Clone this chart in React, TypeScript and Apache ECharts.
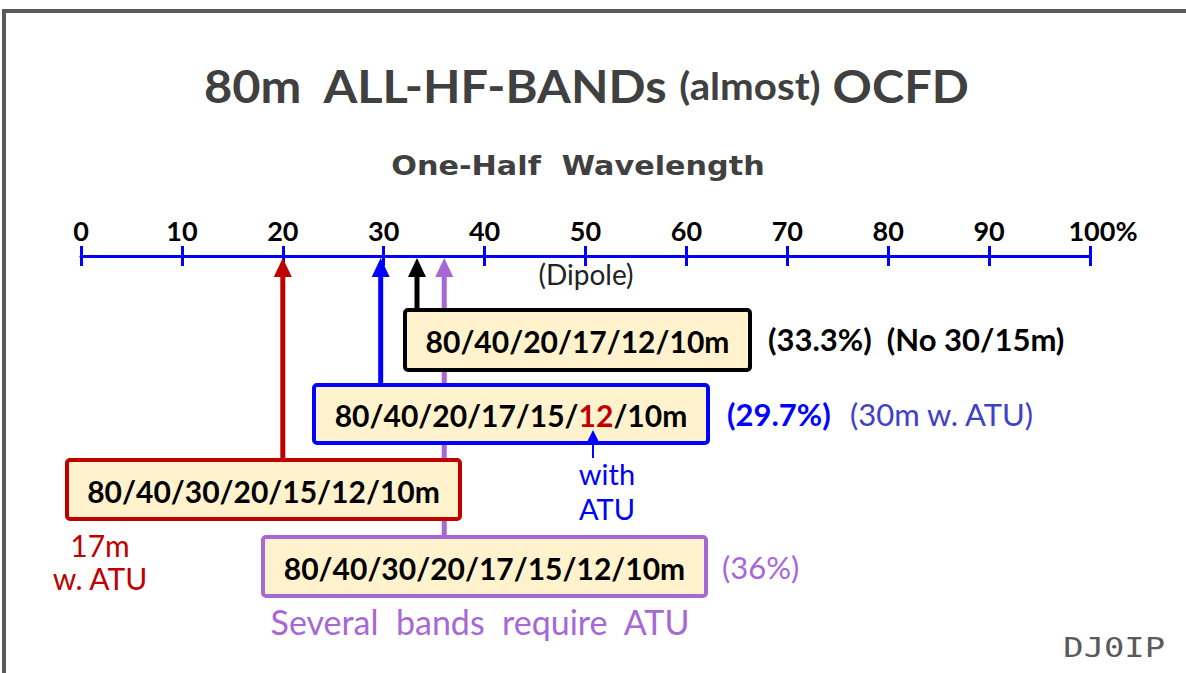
import React, { useEffect, useRef } from "react";
import * as echarts from "echarts";

// ---- data ----
const axisMin = 0;
const axisMax = 100;
const axisStep = 10;
const arrowPercents = [33.3, 29.7, 20, 36];
const bandLists = [
  "80/40/20/17/12/10m",
  "80/40/20/17/15/{r|12}/10m",
  "80/40/30/20/15/12/10m",
  "80/40/30/20/17/15/12/10m",
];
const percentLabels = ["(33.3%)", "(29.7%)", "", "(36%)"];
const extraNotes = ["(No 30/15m)", "(30m w. ATU)", "", ""];
const titleText = ["80m  ALL-HF-BANDs ", "(almost)", " OCFD"];
const subtitleText = "One-Half  Wavelength";
const dipoleText = "(Dipole)";
const withAtuLines = ["with", "ATU"];
const redNoteLines = ["17m", "w. ATU"];
const purpleNote = "Several  bands  require  ATU";
const signature = "DJ0IP";

// ---- layout / styles (pixels) ----
const GRID_TOP = 256;
const boxColors = ["#000000", "#0000ff", "#c00000", "#a768d6"];
const boxes = [
  { x: 405, y: 310, w: 345, h: 60 },
  { x: 314, y: 385, w: 394, h: 58 },
  { x: 67, y: 460, w: 393, h: 59 },
  { x: 263, y: 537, w: 443, h: 59 },
];
const FILL = "#fff2cc";

export default function App() {
  const ref = useRef<HTMLDivElement>(null);
  useEffect(() => {
    if (!ref.current) return;
    const chart = echarts.init(ref.current, null, { renderer: "svg" });

    const arrowData = arrowPercents.map((p, i) => [p, boxes[i].y - GRID_TOP]);

    const graphic: any[] = [];
    // frame
    graphic.push({
      type: "rect",
      shape: { x: 4, y: 11, width: 1200, height: 700 },
      style: { fill: "none", stroke: "#5a5a5a", lineWidth: 4 },
      z: 1,
    });
    // title
    graphic.push({
      type: "text",
      x: 586,
      y: 85,
      scaleX: 1.06,
      style: {
        text: `${titleText[0]}{s|${titleText[1]}}${titleText[2]}`,
        font: "bold 46px Lato",
        fill: "#404040",
        align: "center",
        verticalAlign: "middle",
        rich: { s: { font: "bold 38px Lato", fill: "#404040" } },
      },
    });
    graphic.push({
      type: "text",
      x: 578,
      y: 166,
      scaleX: 1.12,
      style: {
        text: subtitleText,
        font: "bold 27px 'DejaVu Sans'",
        fill: "#404040",
        align: "center",
        verticalAlign: "middle",
      },
    });
    graphic.push({
      type: "text",
      x: 586,
      y: 274,
      style: { text: dipoleText, font: "28px Lato", fill: "#222", align: "center", verticalAlign: "middle" },
    });
    // boxes
    boxes.forEach((b, i) => {
      graphic.push({
        type: "rect",
        z: 50,
        shape: { x: b.x, y: b.y, width: b.w, height: b.h, r: 3 },
        style: { fill: FILL, stroke: boxColors[i], lineWidth: 4 },
      });
      graphic.push({
        type: "text",
        z: 51,
        x: b.x + b.w / 2,
        y: b.y + b.h / 2 + 1,
        style: {
          text: bandLists[i],
          font: "bold 30px Lato",
          fill: "#000",
          align: "center",
          verticalAlign: "middle",
          rich: { r: { font: "bold 30px Lato", fill: "#c00000" } },
        },
      });
    });
    // right-side labels
    graphic.push({
      type: "text",
      x: 768,
      y: 339,
      style: { text: `${percentLabels[0]}  ${extraNotes[0]}`, font: "bold 31px Lato", fill: "#000", align: "left", verticalAlign: "middle" },
    });
    graphic.push({
      type: "text",
      x: 727,
      y: 414,
      style: { text: percentLabels[1], font: "bold 31px Lato", fill: "#0000ff", align: "left", verticalAlign: "middle" },
    });
    graphic.push({
      type: "text",
      x: 850,
      y: 414,
      style: { text: extraNotes[1], font: "31px Lato", fill: "#4040c8", align: "left", verticalAlign: "middle" },
    });
    graphic.push({
      type: "text",
      x: 722,
      y: 567,
      style: { text: percentLabels[3], font: "31px Lato", fill: "#a768d6", align: "left", verticalAlign: "middle" },
    });
    // with ATU
    withAtuLines.forEach((t, i) => {
      graphic.push({
        type: "text",
        x: 607,
        y: 473 + i * 35,
        style: { text: t, font: "29px Lato", fill: "#0000ff", align: "center", verticalAlign: "middle" },
      });
    });
    graphic.push({
      type: "line",
      z: 60,
      shape: { x1: 593, y1: 440, x2: 593, y2: 458 },
      style: { stroke: "#0000ff", lineWidth: 2 },
    });
    graphic.push({
      type: "polygon",
      z: 60,
      shape: { points: [[593, 430], [587, 442], [599, 442]] },
      style: { fill: "#0000ff" },
    });
    // red note
    redNoteLines.forEach((t, i) => {
      graphic.push({
        type: "text",
        x: 100,
        y: 545 + i * 33,
        style: { text: t, font: "30px Lato", fill: "#c00000", align: "center", verticalAlign: "middle" },
      });
    });
    graphic.push({
      type: "text",
      x: 480,
      y: 621,
      style: { text: purpleNote, font: "34px Lato", fill: "#a768d6", align: "center", verticalAlign: "middle" },
    });
    graphic.push({
      type: "text",
      x: 1165,
      y: 648,
      scaleX: 1.3,
      style: { text: signature, font: "26px 'DejaVu Sans Mono'", fill: "#5a5a5a", align: "right", verticalAlign: "middle" },
    });

    const option: any = {
      animation: false,
      backgroundColor: "#ffffff",
      grid: { left: 81, right: 96, top: GRID_TOP, height: 400 },
      xAxis: [
        {
          type: "value",
          min: axisMin,
          max: axisMax,
          interval: axisStep,
          position: "top",
          axisLine: { lineStyle: { color: "#0000ff", width: 3 } },
          axisTick: { length: 10, lineStyle: { color: "#0000ff", width: 3 } },
          splitLine: { show: false },
          axisLabel: {
            margin: 12,
            color: "#000",
            fontFamily: "Lato",
            fontWeight: "bold",
            fontSize: 27,
            formatter: (v: number) => (v === axisMax ? "{sp| }" + v + "%" : String(v)),
            rich: { sp: { width: 26 } },
          },
        },
        {
          type: "value",
          min: axisMin,
          max: axisMax,
          interval: axisStep,
          position: "top",
          offset: 0,
          axisLine: { show: false },
          axisTick: { inside: true, length: 10, lineStyle: { color: "#0000ff", width: 3 } },
          axisLabel: { show: false },
          splitLine: { show: false },
        },
      ],
      yAxis: { type: "value", min: 0, max: 400, inverse: true, show: false },
      series: [
        {
          type: "custom",
          xAxisIndex: 0,
          yAxisIndex: 0,
          z: 5,
          data: arrowData,
          renderItem: (params: any, api: any) => {
            const pct = api.value(0);
            const endY = api.value(1);
            const top = api.coord([pct, 0]);
            const bot = api.coord([pct, endY]);
            const color = boxColors[params.dataIndex];
            const tipY = top[1] + 2;
            const headH = 19;
            const headW = 9;
            return {
              type: "group",
              children: [
                {
                  type: "line",
                  shape: { x1: top[0], y1: tipY + headH - 2, x2: bot[0], y2: bot[1] },
                  style: { stroke: color, lineWidth: 5 },
                },
                {
                  type: "polygon",
                  shape: { points: [[top[0], tipY], [top[0] - headW, tipY + headH], [top[0] + headW, tipY + headH]] },
                  style: { fill: color },
                },
              ],
            };
          },
        },
      ],
      graphic,
    };
    chart.setOption(option);
    return () => chart.dispose();
  }, []);
  return <div ref={ref} style={{ position: "fixed", left: 0, top: 0, width: 1186, height: 673 }} />;
}
